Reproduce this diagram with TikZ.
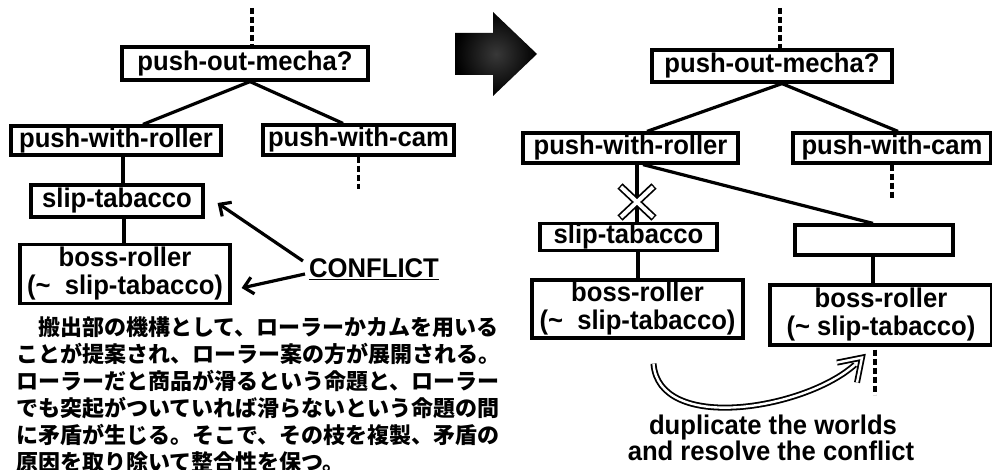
\documentclass[tikz,border=0pt]{standalone}
\usepackage{fontspec}
\setmainfont{Liberation Sans}
\newfontfamily\boxfont{Liberation Sans}[FakeStretch=0.95]
\newfontfamily\jpfont{Noto Sans CJK JP}
\usetikzlibrary{arrows.meta,calc}
\tikzset{
  box/.style={draw, line width=3.2pt, inner sep=0pt, align=center,
    font=\boxfont\bfseries\fontsize{27}{28}\selectfont},
  conn/.style={line width=3.2pt},
  dashline/.style={line width=3.5pt, dash pattern=on 6pt off 3pt},
  confarrow/.style={line width=3.2pt, -{Straight Barb[length=9pt,width=17pt,line width=3.2pt]}},
  lbl/.style={font=\boxfont\bfseries\fontsize{27}{28}\selectfont, align=center, inner sep=0pt},
  dbl/.style={line width=1.8pt, double=white, double distance=2.4pt},
}
\begin{document}
\begin{tikzpicture}[x=1pt,y=-1pt]
\useasboundingbox (0,0) rectangle (992,470);
\clip (0,0) rectangle (992,470);

% ---------- left tree ----------
\node[box, minimum width=246pt, minimum height=33pt] (pom1) at (245,63.5) {push-out-mecha?};
\node[box, minimum width=210pt, minimum height=29pt] (pwr1) at (116,140.5) {push-with-roller};
\node[box, minimum width=191pt, minimum height=30pt] (pwc1) at (358.5,140) {push-with-cam};
\node[box, minimum width=172pt, minimum height=32pt] (st1) at (117,201) {slip-tabacco};
\node[box, minimum width=210pt, minimum height=59pt] (br1) at (125,274) {boss-roller\\(\textasciitilde\ \ slip-tabacco)};

\coordinate (top1) at (252,8);
\draw[dashline] (top1) -- (top1 |- pom1.north);
\draw[conn] ($(pom1.south)+(5,0)$) -- ($(pwr1.north)+(27,0)$);
\draw[conn] ($(pom1.south)+(5,0)$) -- ($(pwc1.north)+(-15.5,0)$);
\draw[conn] ($(pwr1.south)+(7,0)$) -- ($(st1.north)+(6,0)$);
\draw[conn] ($(st1.south)+(7,0)$) -- ($(br1.north)+(-1,0)$);
\coordinate (pwc1end) at ($(pwc1.south)+(0,32)$);
\draw[dashline] (pwc1.south) -- (pwc1end);

\node[lbl] (conf) at (374,269) {\underline{CONFLICT}};
\draw[confarrow] ($(conf.west)+(-6,-8)$) -- ($(st1.east)+(13,2)$);
\draw[confarrow] ($(conf.west)+(-4,5)$) -- ($(br1.east)+(10,14)$);

\node[anchor=north west, align=left, inner sep=0pt,
  font=\jpfont\bfseries\fontsize{22}{27}\selectfont] (jp) at (16,316)
  {　搬出部の機構として、ローラーかカムを用いる\\
   ことが提案され、ローラー案の方が展開される。\\
   ローラーだと商品が滑るという命題と、ローラー\\
   でも突起がついていれば滑らないという命題の間\\
   に矛盾が生じる。そこで、その枝を複製、矛盾の\\
   原因を取り除いて整合性を保つ。};

% ---------- big arrow ----------
\shade[inner color=black!78, outer color=black]
  (455,33) -- (493,33) -- (493,12) -- (537,54) -- (493,96) -- (493,75) -- (455,75) -- cycle;

% ---------- right tree ----------
\node[box, minimum width=240pt, minimum height=32pt] (pom2) at (772,66) {push-out-mecha?};
\node[box, minimum width=215pt, minimum height=30pt] (pwr2) at (630.5,148) {push-with-roller};
\node[box, minimum width=198pt, minimum height=30pt] (pwc2) at (892,148) {push-with-cam};
\node[box, minimum width=177pt, minimum height=27pt] (st2) at (628.5,237) {slip-tabacco};
\node[box, minimum width=158pt, minimum height=30pt] (blank) at (874,240) {};
\node[box, minimum width=211pt, minimum height=58pt] (br2l) at (637.5,309) {boss-roller\\(\textasciitilde\ \ slip-tabacco)};
\node[box, minimum width=222pt, minimum height=60pt] (br2r) at (881,315) {boss-roller\\(\textasciitilde\ slip-tabacco)};

\coordinate (top2) at (780,8);
\draw[dashline] (top2) -- (top2 |- pom2.north);
\draw[conn] ($(pom2.south)+(10,0)$) -- ($(pwr2.north)+(16.5,0)$);
\draw[conn] ($(pom2.south)+(10,0)$) -- ($(pwc2.north)+(6,0)$);
\draw[conn] ($(pwr2.south)+(6.5,0)$) -- ($(st2.north)+(8.5,0)$);
\draw[conn] ($(pwr2.south)+(12.5,0)$) -- ($(blank.north)+(-1,0)$);
\draw[conn] ($(st2.south)+(9.5,0)$) -- ($(br2l.north)+(0.5,0)$);
\draw[conn] ($(blank.south)+(-1,0)$) -- ($(br2r.north)+(-8,0)$);
\coordinate (pwc2end) at ($(pwc2.south)+(0,35)$);
\draw[dashline] (pwc2.south) -- (pwc2end);
\coordinate (br2rtop) at ($(br2r.south)+(-6,3)$);
\coordinate (br2rend) at ($(br2r.south)+(-6,48)$);
\draw[dashline] (br2rtop) -- (br2rend);

% cross mark
\coordinate (xc) at (637,202);
\draw[line width=7.5pt, line cap=butt] ($(xc)+(-17,-16)$) -- ($(xc)+(17,16)$) ($(xc)+(17,-16)$) -- ($(xc)+(-17,16)$);
\draw[white, line width=4pt, line cap=butt] ($(xc)+(-16,-15)$) -- ($(xc)+(16,15)$) ($(xc)+(16,-15)$) -- ($(xc)+(-16,15)$);

% double curved arrow
\coordinate (cA) at ($(br2l.south)+(16,24)$);
\coordinate (cB) at ($(br2r.south)+(-26,18)$);
\coordinate (cT) at ($(cB)+(7,-7)$);
\draw[dbl] (cA) .. controls ($(cA)+(5,70)$) and ($(cB)+(-50,45)$) .. (cB);
\draw[dbl, line join=miter] ($(cT)+(-5,25)$) -- (cT) -- ($(cT)+(-25,5)$);

\node[lbl] (dup) at (773,428) {duplicate the worlds};
\node[lbl] (res) at (771,451) {and resolve the conflict};
\end{tikzpicture}
\end{document}
